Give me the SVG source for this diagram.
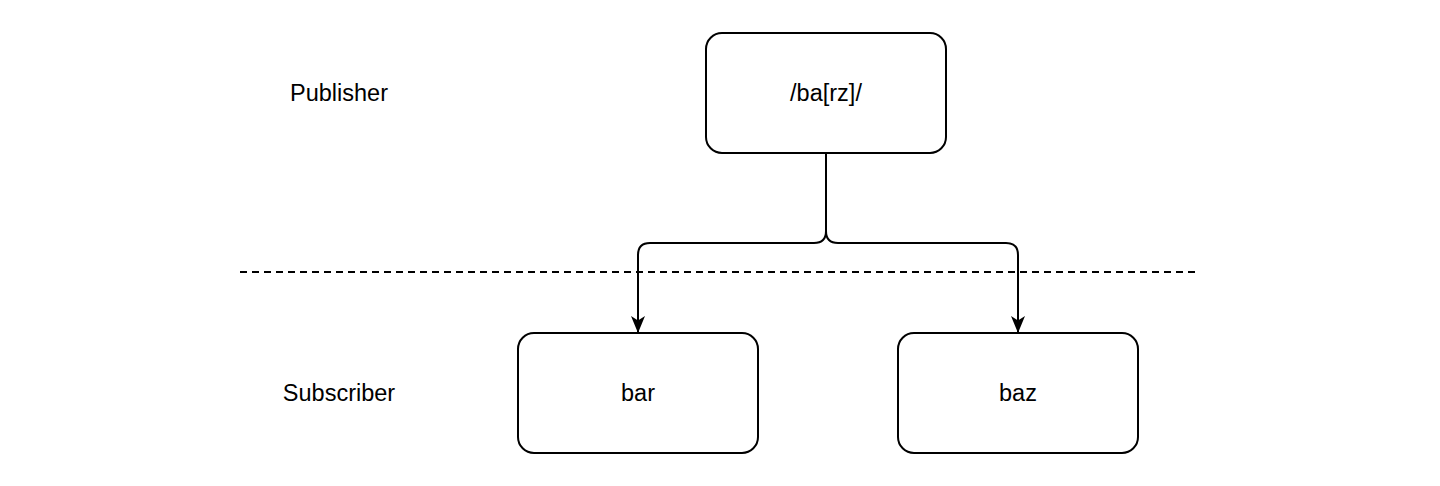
<svg xmlns="http://www.w3.org/2000/svg" width="1440" height="486" viewBox="0 0 1440 486">
<defs>
<style>
.box{fill:#ffffff;stroke:#000000;stroke-width:2}
.lbl{font-family:"Liberation Sans",Arial,sans-serif;font-size:23.5px;fill:#000000;text-anchor:middle}
.edge{fill:none;stroke:#000000;stroke-width:2}
</style>
<marker id="arr" viewBox="0 0 17 14" refX="16" refY="7" markerWidth="17" markerHeight="14" markerUnits="userSpaceOnUse" orient="auto">
<path d="M0,0 L17,7 L0,14 L4.5,7 Z" fill="#000000"/>
</marker>
</defs>
<rect width="1440" height="486" fill="#ffffff"/>
<g id="publisher-label"><text class="lbl" x="339" y="101">Publisher</text></g>
<g id="subscriber-label"><text class="lbl" x="339" y="401">Subscriber</text></g>
<g id="divider"><line x1="240" y1="272" x2="1196" y2="272" stroke="#000000" stroke-width="2" stroke-dasharray="7 5"/></g>
<g id="connectors">
<path class="edge" d="M826,153 L826,231 Q826,243 814,243 L650,243 Q638,243 638,255 L638,332" marker-end="url(#arr)"/>
<path class="edge" d="M826,153 L826,231 Q826,243 838,243 L1006,243 Q1018,243 1018,255 L1018,332" marker-end="url(#arr)"/>
</g>
<g id="node-pattern"><rect class="box" x="706" y="33" width="240" height="120" rx="16"/><text class="lbl" x="826" y="101">/ba[rz]/</text></g>
<g id="node-bar"><rect class="box" x="518" y="333" width="240" height="120" rx="16"/><text class="lbl" x="638" y="401">bar</text></g>
<g id="node-baz"><rect class="box" x="898" y="333" width="240" height="120" rx="16"/><text class="lbl" x="1018" y="401">baz</text></g>
</svg>
